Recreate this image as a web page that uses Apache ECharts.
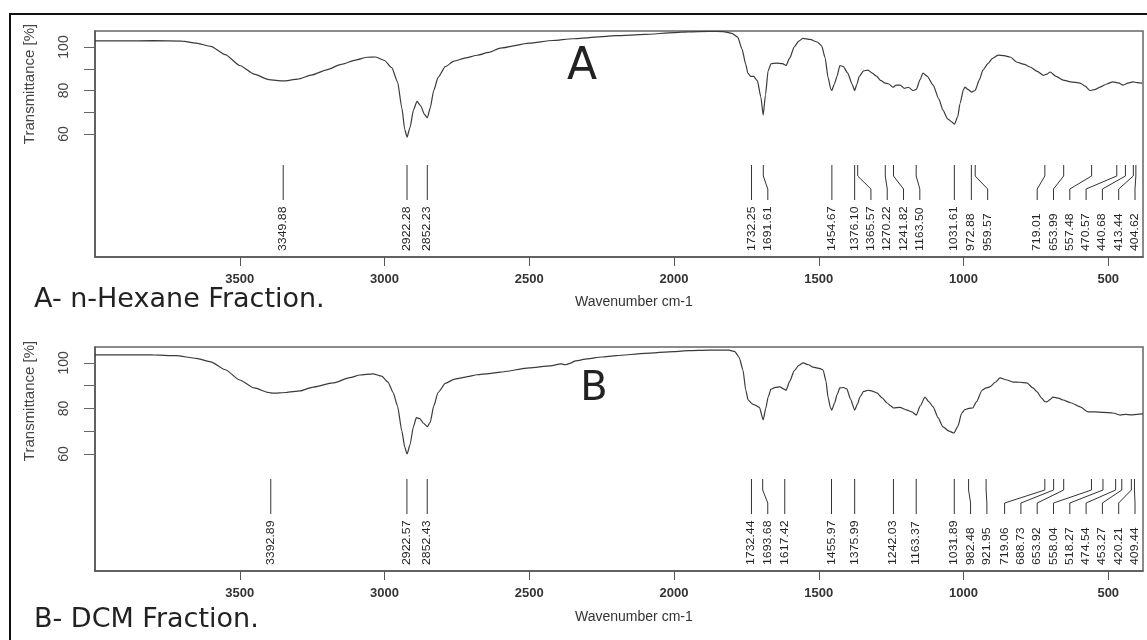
<!DOCTYPE html>
<html>
<head>
<meta charset="utf-8">
<script src="https://cdn.jsdelivr.net/npm/echarts@6/dist/echarts.min.js"></script>
<style>
html,body{margin:0;padding:0;background:#fff;}
#chart{width:1147px;height:640px;}
</style>
</head>
<body>
<div id="chart"></div>
<script>
// ---------- DATA ----------
const xTickValues = [500, 1000, 1500, 2000, 2500, 3000, 3500];
const yTickValues = [60, 70, 80, 90, 100];
const yLabelValues = [60, 80, 100];

// Spectrum A (n-Hexane fraction): [wavenumber cm-1, transmittance %]
const spectrumA = [
  [4000,102.8],[3900,102.8],[3800,102.9],[3700,102.7],[3650,101.8],[3600,100.3],[3550,96.5],
  [3500,91.5],[3450,87.5],[3400,85.0],[3350,84.4],[3300,85.2],[3250,87.2],[3200,89.5],
  [3150,92.0],[3100,94.0],[3060,95.3],[3030,95.4],[3000,93.8],[2975,90.5],[2955,84],
  [2940,72],[2930,62],[2922,58.6],[2912,63],[2900,71],[2888,75],[2875,73],[2862,69],
  [2852,67.4],[2842,72],[2830,80],[2815,86],[2790,91],[2760,93.5],[2720,95],[2680,96.2],
  [2640,97.5],[2600,99.5],[2500,101.8],[2420,103],[2350,103.8],[2300,104.2],[2250,104.8],
  [2200,105.2],[2100,105.8],[2000,106.6],[1950,107],[1880,107.2],[1830,107.1],[1800,106.3],
  [1780,104.5],[1765,99],[1752,92],[1745,88],[1735,86.5],[1725,86.5],[1712,84.5],[1700,77],
  [1692,68.7],[1684,78],[1675,89],[1665,92.3],[1645,92.6],[1625,92.4],[1613,91.5],[1600,95],
  [1585,100],[1570,102.6],[1555,104],[1530,103.5],[1505,102.3],[1490,100.5],[1478,95],
  [1468,86],[1458,80.5],[1455,80],[1446,83],[1437,86.5],[1427,91.5],[1415,91],[1400,88],
  [1385,83],[1376,80],[1368,83],[1360,86.5],[1345,89],[1330,89.4],[1315,88],[1300,86.5],
  [1285,84.5],[1270,83.4],[1258,83],[1244,81.5],[1232,82.5],[1219,82.5],[1205,81],
  [1190,81.5],[1175,80],[1163,80.5],[1150,85],[1140,88],[1125,86.5],[1105,82.5],[1085,76],
  [1071,71],[1055,67],[1040,65.5],[1031,64.5],[1020,68],[1012,74],[1000,80.5],[995,81.6],
  [985,80.5],[972,79.3],[960,80],[945,85],[933,89.4],[915,92.5],[900,94.8],[881,96.3],
  [860,96],[839,95.4],[815,93],[790,92],[770,90.8],[745,88.8],[725,87],[712,87.5],[701,88.5],
  [680,86.5],[656,84.8],[630,84],[597,83.4],[580,82],[563,80],[545,80.5],[528,81.6],
  [505,83],[484,84],[465,83.5],[449,82.5],[430,83.5],[415,84],[400,83.6],[383,83.4]
];

// Spectrum B (DCM fraction)
const spectrumB = [
  [4000,103.5],[3900,103.6],[3800,103.5],[3720,103.2],[3650,102],[3600,100.5],[3550,97],
  [3500,92.5],[3450,89],[3400,87],[3385,86.7],[3340,87],[3292,87.7],[3250,89.3],[3178,91.2],
  [3120,93.5],[3085,94.7],[3040,95.2],[3010,94.2],[2988,91.6],[2970,87],[2955,81],[2940,70],
  [2930,63],[2922,60],[2912,64],[2900,72],[2890,76],[2878,75.5],[2865,73.5],[2852,72],
  [2842,74],[2830,81],[2815,87],[2790,91],[2760,92.8],[2720,93.8],[2680,94.8],[2640,95.3],
  [2600,96],[2500,97.8],[2428,98.7],[2390,99.6],[2375,99.2],[2360,99.8],[2340,100.9],
  [2300,101.8],[2250,102.6],[2200,103.2],[2100,104.2],[2000,105],[1950,105.4],[1880,105.6],
  [1810,105.6],[1790,105.0],[1775,102.5],[1762,97],[1752,88],[1744,83.7],[1730,82],
  [1720,81.5],[1705,80.5],[1692,75],[1683,80],[1675,85],[1665,88.5],[1650,89.3],[1634,89.5],
  [1620,88.5],[1613,88],[1600,92],[1585,96.5],[1570,98.8],[1554,100],[1535,99.2],[1520,98.2],
  [1495,97.5],[1485,96.9],[1475,92],[1468,85],[1460,80.5],[1455,79.3],[1445,82.5],[1437,86],
  [1427,89],[1415,89.2],[1403,88.6],[1390,84],[1376,79.3],[1366,82],[1358,85],[1345,87.5],
  [1330,88],[1315,87.6],[1299,86.8],[1280,84.5],[1264,82.4],[1250,81],[1242,80.2],[1220,80.5],
  [1195,79.3],[1178,78.5],[1163,77.1],[1150,81],[1133,85],[1120,83],[1105,80.7],[1088,76],
  [1071,71.9],[1050,70],[1033,69.2],[1020,72],[1006,78],[995,79.5],[982,80],[968,80.2],
  [955,83],[936,88],[922,89],[909,89.5],[890,91.5],[874,93.4],[850,92.5],[829,91.6],
  [805,91.5],[781,91.2],[760,89],[746,87.3],[730,84.5],[719,83],[712,82.9],[700,84],[691,85],
  [672,84.5],[656,83.7],[630,82.5],[597,80.7],[570,78.5],[545,78.5],[518,78.3],[484,78],
  [459,77.1],[440,77.4],[420,77.2],[400,77.4],[380,77.6]
];

// Labelled peaks (wavenumbers, cm-1)
const peaksA = [3349.88, 2922.28, 2852.23, 1732.25, 1691.61, 1454.67, 1376.10, 1365.57,
  1270.22, 1241.82, 1163.50, 1031.61, 972.88, 959.57, 719.01, 653.99, 557.48, 470.57,
  440.68, 413.44, 404.62];
const peaksB = [3392.89, 2922.57, 2852.43, 1732.44, 1693.68, 1617.42, 1455.97, 1375.99,
  1242.03, 1163.37, 1031.89, 982.48, 921.95, 719.06, 688.73, 653.92, 558.04, 518.27,
  474.54, 453.27, 420.21, 409.44];

// ---------- CHART ----------
const chart = echarts.init(document.getElementById('chart'), null, {renderer: 'canvas'});

function spread(xs, d, maxX) {
  const out = xs.slice();
  for (let i = 1; i < out.length; i++) out[i] = Math.max(out[i], out[i - 1] + d);
  out[out.length - 1] = Math.min(out[out.length - 1], maxX);
  for (let i = out.length - 2; i >= 0; i--) out[i] = Math.min(out[i], out[i + 1] - d);
  return out;
}

function peakSeries(peaks, idx) {
  return {
    type: 'custom',
    xAxisIndex: idx, yAxisIndex: idx,
    silent: true,
    data: peaks.map(p => [p, 50]),
    renderItem: function (params, api) {
      const cs = params.coordSys;
      const bottom = cs.y + cs.height;
      const xs = peaks.map(p => api.coord([p, 50])[0]);
      const lxs = spread(xs, 16.3, cs.x + cs.width - 8);
      const i = params.dataIndex;
      const px = api.coord([api.value(0), 50])[0];
      const lx = lxs[i];
      const yTop = bottom - 92, yBot = bottom - 57, yLab = bottom - 6;
      return {
        type: 'group',
        children: [
          {type: 'polyline', shape: {points: [[px, yTop], [px, yTop + 11], [lx, yTop + 24], [lx, yBot]]},
           style: {stroke: '#333', lineWidth: 1, fill: null}},
          {type: 'text', x: lx, y: yLab, rotation: Math.PI / 2, scaleX: 1.12,
           style: {text: api.value(0).toFixed(2), x: 0, y: 0, align: 'left', verticalAlign: 'middle',
                   fontSize: 11, fontFamily: 'Liberation Sans, Arial, sans-serif', fill: '#222'}}
        ]
      };
    }
  };
}

function xAxisFor(i) {
  return {
    type: 'value', gridIndex: i, min: 380, max: 4000, inverse: true,
    axisLine: {show: true, lineStyle: {color: '#555', width: 1.5}},
    axisTick: {show: true, customValues: xTickValues, length: 9, lineStyle: {color: '#555'}},
    axisLabel: {customValues: xTickValues, margin: 16, fontSize: 13, fontWeight: 'bold',
                color: '#333', fontFamily: 'Liberation Sans, Arial, sans-serif',
                formatter: function (v) { return String(v); }},
    splitLine: {show: false}
  };
}
function yAxisFor(i, min, max) {
  return {
    type: 'value', gridIndex: i, min: min, max: max,
    axisLine: {show: true, lineStyle: {color: '#555', width: 1.5}},
    axisTick: {show: true, customValues: yTickValues, length: 11, lineStyle: {color: '#666'}},
    axisLabel: {customValues: yLabelValues, rotate: 90, margin: 24, fontSize: 14,
                color: '#444', fontFamily: 'Liberation Sans, Arial, sans-serif',
                formatter: function (v) { return String(v); }},
    splitLine: {show: false}
  };
}

const lineStyle = {color: '#3a3a3a', width: 1.2};
const textFont = 'Liberation Sans, Arial, sans-serif';
const handFont = 'DejaVu Sans, sans-serif';

const option = {
  animation: false,
  backgroundColor: '#ffffff',
  grid: [
    {left: 95, top: 31, width: 1048, height: 226, show: true, borderColor: '#666', borderWidth: 1.5, backgroundColor: 'transparent'},
    {left: 95, top: 347, width: 1048, height: 224, show: true, borderColor: '#666', borderWidth: 1.5, backgroundColor: 'transparent'}
  ],
  xAxis: [xAxisFor(0), xAxisFor(1)],
  yAxis: [yAxisFor(0, 3.45, 107.36), yAxisFor(1, 8.57, 107.0)],
  series: [
    {type: 'line', xAxisIndex: 0, yAxisIndex: 0, data: spectrumA, showSymbol: false, symbol: 'none',
     smooth: 0.2, smoothMonotone: 'x', lineStyle: lineStyle, silent: true},
    {type: 'line', xAxisIndex: 1, yAxisIndex: 1, data: spectrumB, showSymbol: false, symbol: 'none',
     smooth: 0.2, smoothMonotone: 'x', lineStyle: lineStyle, silent: true},
    peakSeries(peaksA, 0),
    peakSeries(peaksB, 1)
  ],
  graphic: [
    {type: 'rect', shape: {x: 10, y: 14, width: 1150, height: 640}, style: {fill: null, stroke: '#111', lineWidth: 2}, silent: true},
    {type: 'text', x: 30, y: 84, rotation: Math.PI / 2,
     style: {text: 'Transmittance [%]', align: 'center', verticalAlign: 'middle', fontSize: 15, fontFamily: textFont, fill: '#444'}},
    {type: 'text', x: 30, y: 401, rotation: Math.PI / 2,
     style: {text: 'Transmittance [%]', align: 'center', verticalAlign: 'middle', fontSize: 15, fontFamily: textFont, fill: '#444'}},
    {type: 'text', x: 575, y: 302,
     style: {text: 'Wavenumber cm-1', align: 'left', verticalAlign: 'middle', fontSize: 14, fontFamily: textFont, fill: '#333'}},
    {type: 'text', x: 575, y: 617,
     style: {text: 'Wavenumber cm-1', align: 'left', verticalAlign: 'middle', fontSize: 14, fontFamily: textFont, fill: '#333'}},
    {type: 'text', x: 34, y: 300,
     style: {text: 'A- n-Hexane Fraction.', align: 'left', verticalAlign: 'middle', fontSize: 27, fontFamily: handFont, fill: '#222'}},
    {type: 'text', x: 34, y: 620,
     style: {text: 'B- DCM Fraction.', align: 'left', verticalAlign: 'middle', fontSize: 27, fontFamily: handFont, fill: '#222'}},
    {type: 'text', x: 582, y: 68,
     style: {text: 'A', align: 'center', verticalAlign: 'middle', fontSize: 44, fontFamily: handFont, fill: '#222'}},
    {type: 'text', x: 594, y: 390,
     style: {text: 'B', align: 'center', verticalAlign: 'middle', fontSize: 40, fontFamily: handFont, fill: '#222'}}
  ]
};
chart.setOption(option);
</script>
</body>
</html>
